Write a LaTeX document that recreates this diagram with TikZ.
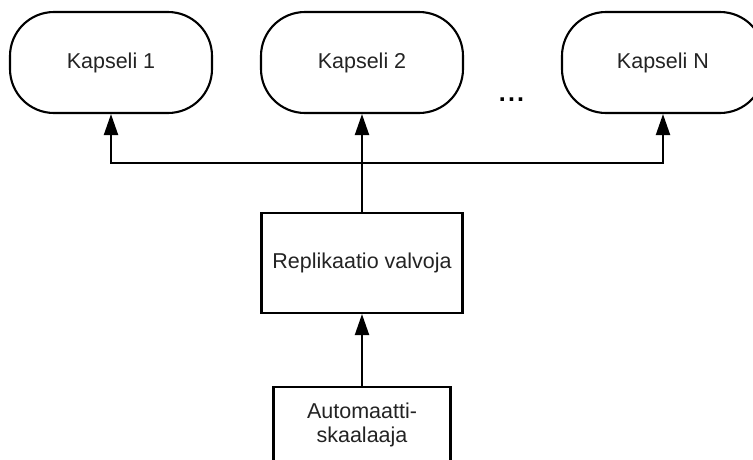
\documentclass[tikz,border=0pt]{standalone}
\usepackage{fontspec}
\setmainfont{Liberation Sans}
\usetikzlibrary{arrows.meta}
\definecolor{ink}{RGB}{35,35,35}
\begin{document}
\begin{tikzpicture}[x=1pt,y=-1pt,
  line width=2.1pt,
  every node/.style={font=\fontsize{21.5}{24}\selectfont, text=ink},
  capsule/.style={draw, rounded corners=44pt, minimum width=202pt, minimum height=101pt, inner sep=0pt},
  block/.style={draw, minimum width=201pt, minimum height=100pt, inner sep=0pt, align=center},
  link/.style={-{Triangle[length=21pt,width=14pt]}}
]
\useasboundingbox (0,0) rectangle (753,459);

% pods
\node[capsule] (k1) at (111,62.5) {Kapseli 1};
\node[capsule] (k2) at (362,62.5) {Kapseli 2};
\node[capsule] (kN) at (663,62.5) {Kapseli N};
\node[font=\fontsize{25}{25}\bfseries, text=black] (dots) at (511.5,100) {.\hspace{2.2pt}.\hspace{2.2pt}.};

% controllers
\node[block] (rv) at (362,263) {Replikaatio valvoja};
\node[block, minimum width=177pt, minimum height=76pt] (as) at (362,425) {Automaatti-\\skaalaaja};

% fan-out from the replication controller
\coordinate (j) at (362,163);
\draw[link] (rv.north) -- (k2.south);
\draw[link] (j) -| (k1.south);
\draw[link] (j) -| (kN.south);

% autoscaler drives the replication controller
\draw[link] (as.north) -- (rv.south);
\end{tikzpicture}
\end{document}
